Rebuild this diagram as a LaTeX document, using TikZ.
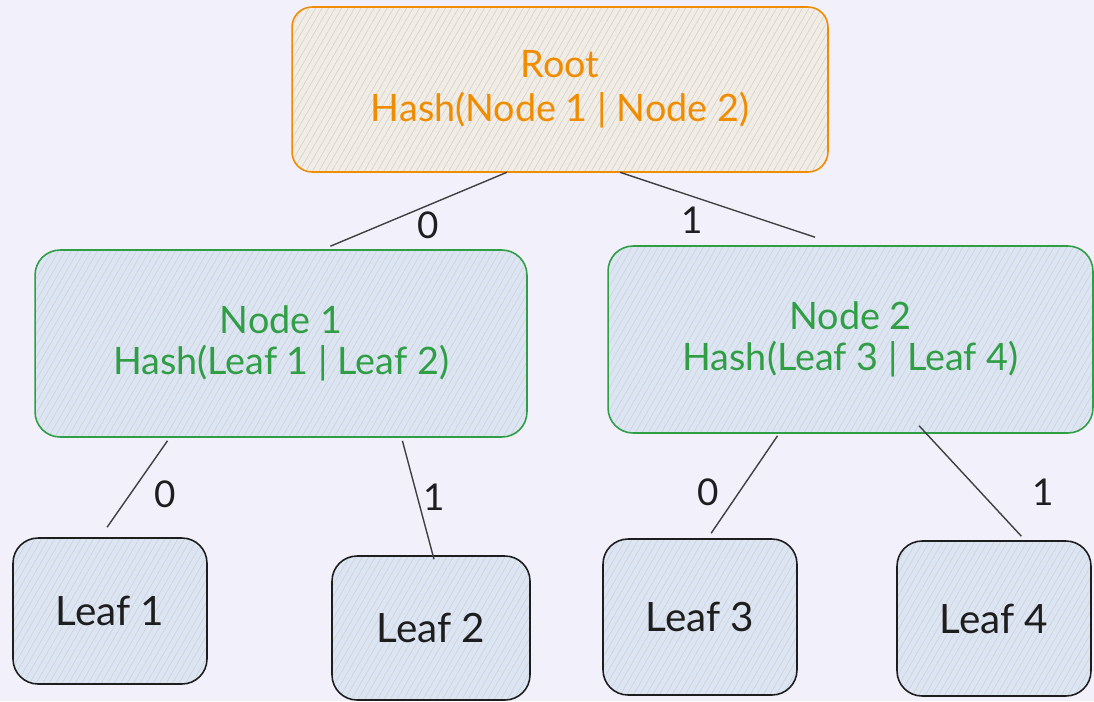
\documentclass[tikz,border=0pt]{standalone}
\usepackage{fontspec}
\setmainfont{Lato}
\usepackage{tikz}
\usetikzlibrary{calc,patterns.meta}

\definecolor{paper}{HTML}{F2F0FB}
\definecolor{rootline}{HTML}{F08C00}
\definecolor{rootfill}{HTML}{F1EDE4}
\definecolor{hashgreen}{HTML}{2F9E44}
\definecolor{boxfill}{HTML}{DCE5F4}
\definecolor{inkline}{HTML}{1E1E1E}

\tikzset{
  hatched/.style={preaction={fill=#1},
    pattern={Lines[angle=60,distance=3.2pt,line width=0.35pt]},
    pattern color=white!65!gray},
  rootbox/.style={draw=rootline,line width=0.9pt,rounded corners=0.4cm,
    hatched=rootfill,text=rootline,align=center,font=\fontsize{21.5}{25}\selectfont},
  hashbox/.style={draw=hashgreen,line width=0.9pt,rounded corners=0.5cm,
    hatched=boxfill,text=hashgreen,align=center,font=\fontsize{21.5}{23}\selectfont},
  leafbox/.style={draw=inkline,line width=0.9pt,rounded corners=0.5cm,
    hatched=boxfill,text=inkline,font=\fontsize{23}{25}\selectfont},
  bit/.style={text=inkline,font=\fontsize{21}{23}\selectfont},
  edge/.style={draw=inkline!85,line width=0.8pt}
}

\begin{document}
\begin{tikzpicture}[x=0.02cm,y=-0.02cm]
\fill[paper] (0,0) rectangle (1094,701);
\useasboundingbox (0,0) rectangle (1094,701);

%Wurzel
\node[rootbox,minimum width=10.72cm,minimum height=3.3cm] (root) at (560,89.5)
  {Root\\Hash(Node 1 | Node 2)};
%innere Knoten
\node[hashbox,minimum width=9.84cm,minimum height=3.74cm] (node1) at (281,343.5)
  {Node 1\\Hash(Leaf 1 | Leaf 2)};
\node[hashbox,minimum width=9.7cm,minimum height=3.74cm] (node2) at (850.5,339.5)
  {Node 2\\Hash(Leaf 3 | Leaf 4)};
%Blaetter
\node[leafbox,minimum width=3.88cm,minimum height=2.92cm] (leaf1) at (110,611) {Leaf 1};
\node[leafbox,minimum width=3.96cm,minimum height=2.88cm] (leaf2) at (431,628) {Leaf 2};
\node[leafbox,minimum width=3.88cm,minimum height=3.12cm] (leaf3) at (700,617) {Leaf 3};
\node[leafbox,minimum width=3.88cm,minimum height=3.1cm] (leaf4) at (994,618.5) {Leaf 4};

%Kanten
\draw[edge] ($(root.south west)!0.401!(root.south east)$) -- ($(node1.north west)!0.6!(node1.north east)+(0,-3)$);
\draw[edge] ($(root.south west)!0.612!(root.south east)$) -- ($(node2.north west)!0.427!(node2.north east)+(0,-8)$);
\draw[edge] ($(node1.south west)!0.27!(node1.south east)+(0,3)$) -- ($(leaf1.north west)!0.485!(leaf1.north east)+(0,-10)$);
\draw[edge] ($(node1.south west)!0.746!(node1.south east)+(0,3)$) -- ($(leaf2.north west)!0.515!(leaf2.north east)+(0,4)$);
\draw[edge] ($(node2.south west)!0.35!(node2.south east)+(0,2)$) -- ($(leaf3.north west)!0.557!(leaf3.north east)+(0,-5)$);
\draw[edge] ($(node2.south west)!0.641!(node2.south east)+(0,-8)$) -- ($(leaf4.north west)!0.64!(leaf4.north east)+(0,-4)$);

%Bits
\node[bit] (b0) at (428,225) {0};
\node[bit] (b1) at (692,220) {1};
\node[bit] (b00) at (165,494) {0};
\node[bit] (b01) at (434,497) {1};
\node[bit] (b10) at (708,492) {0};
\node[bit] (b11) at (1043,492) {1};
\end{tikzpicture}
\end{document}
